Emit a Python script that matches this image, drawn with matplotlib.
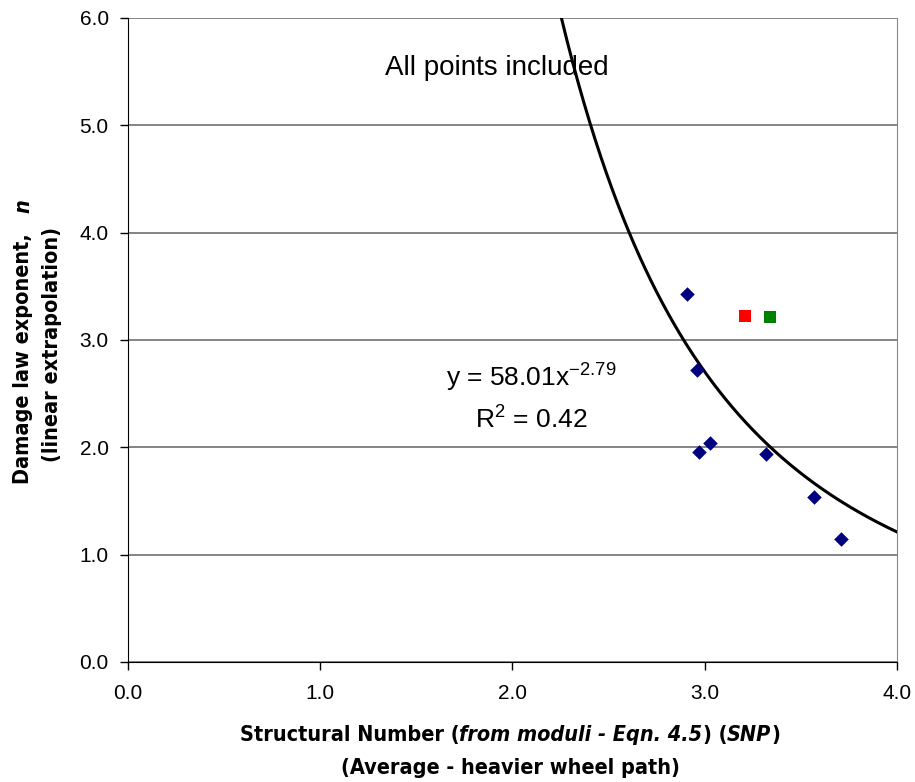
import numpy as np
import matplotlib
matplotlib.use("Agg")
import matplotlib.pyplot as plt
from matplotlib.ticker import FormatStrFormatter

plt.rcParams['font.family'] = ['Liberation Sans', 'DejaVu Sans']
plt.rcParams['mathtext.fontset'] = 'custom'
plt.rcParams['mathtext.rm'] = 'Liberation Sans'

# data
snp = [2.91, 2.96, 2.97, 3.03, 3.32, 3.57, 3.71]
n_exp = [3.43, 2.72, 1.96, 2.04, 1.94, 1.54, 1.15]
red_x, red_y = [3.21], [3.22]
green_x, green_y = [3.34], [3.21]

# power fit y = a * x^b
fit_a = 58.01
fit_b = -2.79
fit_r2 = 0.42

W, H = 915, 782
fig = plt.figure(figsize=(W / 100, H / 100), dpi=100)
ax = fig.add_axes([0.140, 0.1535, 0.840, 0.8235])

x_start = (6.0 / fit_a) ** (1 / fit_b)
xs = np.linspace(x_start, 4.0, 300)
ax.plot(xs, fit_a * xs ** fit_b, color='black', lw=2.2, zorder=3)

ax.scatter(snp, n_exp, marker='D', s=55, color='#000080', zorder=4, linewidths=0)
ax.scatter(red_x, red_y, marker='s', s=70, color='#ff0000', zorder=4, linewidths=0)
ax.scatter(green_x, green_y, marker='s', s=70, color='#008000', zorder=4, linewidths=0)

ax.set_xlim(0, 4)
ax.set_ylim(0, 6)
ax.set_xticks(np.arange(0, 4.01, 1.0))
ax.set_yticks(np.arange(0, 6.01, 1.0))
ax.xaxis.set_major_formatter(FormatStrFormatter('%.1f'))
ax.yaxis.set_major_formatter(FormatStrFormatter('%.1f'))
ax.tick_params(axis='both', direction='out', length=6, width=1, labelsize=15)
ax.tick_params(axis='x', pad=10)
ax.tick_params(axis='y', pad=8)

ax.yaxis.grid(True, color='#707070', lw=1.2)
ax.set_axisbelow(True)
ax.spines['top'].set_visible(False)
ax.spines['right'].set_color('#888888')

ax.text(1.92, 5.53, 'All points included', fontsize=20, ha='center', va='center')
ax.text(2.10, 2.66, 'y = 58.01x$^{\\mathrm{-2.79}}$', fontsize=19, ha='center', va='center')
ax.text(2.10, 2.27, 'R$^{\\mathrm{2}}$ = %.2f' % fit_r2, fontsize=19, ha='center', va='center')

# axis titles built from pieces so that parts can be italic
label_font = dict(family='DejaVu Sans', fontstretch='condensed', fontweight='bold', fontsize=15.5)
renderer = fig.canvas.get_renderer()


def rich_label(parts, cx, cy, vertical=False):
    texts = []
    for s, style in parts:
        t = fig.text(0, 0, s, fontstyle=style, rotation=90 if vertical else 0,
                     ha='left', va='center', rotation_mode='anchor', **label_font)
        texts.append(t)
    sizes = []
    for t in texts:
        bb = t.get_window_extent(renderer)
        sizes.append(bb.height if vertical else bb.width)
    total = sum(sizes)
    pos = (cy if vertical else cx) - total / 2
    for t, sz in zip(texts, sizes):
        if vertical:
            t.set_position((cx / W, pos / H))
        else:
            t.set_position((pos / W, cy / H))
        pos += sz


rich_label([('Structural Number (', 'normal'), ('from moduli - Eqn. 4.5', 'italic'),
            (') (', 'normal'), ('SNP', 'italic'), (')', 'normal')], 510, H - 735)
rich_label([('(Average - heavier wheel path)', 'normal')], 510, H - 768)
rich_label([('Damage law exponent,   ', 'normal'), ('n', 'italic')], 23, H - 342, vertical=True)
rich_label([('(linear extrapolation)', 'normal')], 52, H - 344, vertical=True)

fig.savefig('out.png', dpi=100)
